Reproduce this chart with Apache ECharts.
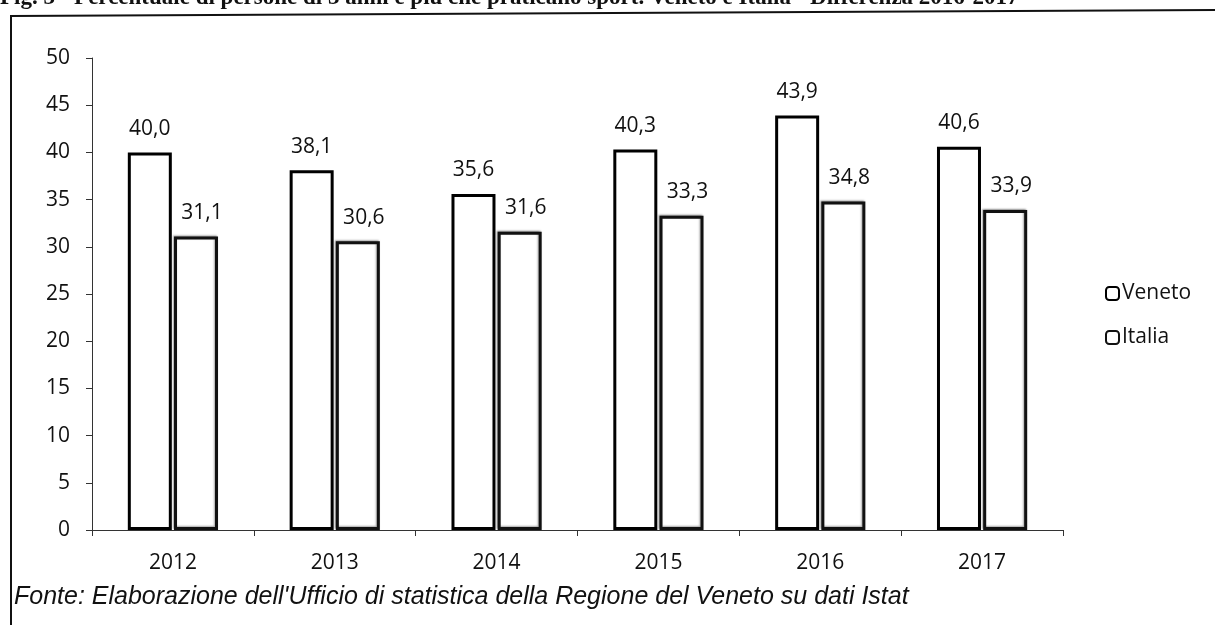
<!DOCTYPE html>
<html>
<head>
<meta charset="utf-8">
<script src="https://cdn.jsdelivr.net/npm/echarts@6/dist/echarts.min.js"></script>
<style>
html,body{margin:0;padding:0;background:#fff;}
#chart{width:1215px;height:625px;}
</style>
</head>
<body>
<div id="chart"></div>
<script>
const categories = ['2012','2013','2014','2015','2016','2017'];
const veneto = [40.0, 38.1, 35.6, 40.3, 43.9, 40.6];
const italia = [31.1, 30.6, 31.6, 33.3, 34.8, 33.9];
const titleText = 'Fig. 3 - Percentuale di persone di 3 anni e più che praticano sport. Veneto e Italia - Differenza 2016-2017';
const sourceText = "Fonte: Elaborazione dell'Ufficio di statistica della Regione del Veneto su dati Istat";

const FONT = '"Open Sans", sans-serif';
const chart = echarts.init(document.getElementById('chart'));
const fmt = p => p.value.toFixed(1).replace('.', ',');

chart.setOption({
  backgroundColor: '#ffffff',
  animation: false,
  grid: { left: 92, right: 152, top: 58, bottom: 95, containLabel: false },
  legend: {
    orient: 'vertical',
    left: 1100,
    top: 278,
    itemWidth: 13,
    itemHeight: 13,
    itemGap: 23,
    textStyle: { fontFamily: FONT, fontSize: 21, color: '#111', padding: [0,0,0,-2] },
    data: ['Veneto', 'Italia']
  },
  xAxis: {
    type: 'category',
    data: categories,
    axisLine: { lineStyle: { color: '#333', width: 1 } },
    axisTick: { show: true, length: 6, lineStyle: { color: '#333' } },
    axisLabel: { fontFamily: FONT, fontSize: 21, color: '#111', margin: 23 }
  },
  yAxis: {
    type: 'value',
    min: 0, max: 50, interval: 5,
    splitLine: { show: false },
    axisLine: { show: true, lineStyle: { color: '#333', width: 1 } },
    axisTick: { show: true, length: 6, lineStyle: { color: '#333' } },
    axisLabel: { fontFamily: FONT, fontSize: 21, color: '#111', margin: 22 }
  },
  series: [
    {
      name: 'Veneto',
      type: 'bar',
      data: veneto,
      barWidth: 44,
      barGap: '5%',
      itemStyle: { color: '#fff', borderColor: '#000', borderWidth: 3 },
      label: { show: true, position: 'top', distance: 13, formatter: fmt,
               fontFamily: FONT, fontSize: 21, color: '#111' }
    },
    {
      name: 'Italia',
      type: 'bar',
      data: italia,
      barWidth: 44,
      itemStyle: { color: '#fff', borderColor: '#111', borderWidth: 3,
                   shadowColor: 'rgba(0,0,0,0.35)', shadowBlur: 2, shadowOffsetX: -1, shadowOffsetY: -1 },
      label: { show: true, position: 'top', distance: 13, offset: [6, 0], formatter: fmt,
               fontFamily: FONT, fontSize: 21, color: '#111' }
    }
  ],
  graphic: [
    { type: 'text', left: 0, top: -13, silent: true,
      style: { text: titleText, font: 'bold 23px "Liberation Serif", serif', fill: '#111' } },
    { type: 'line', silent: true,
      shape: { x1: 11, y1: 16, x2: 1215, y2: 10 },
      style: { stroke: '#111', lineWidth: 2 } },
    { type: 'line', silent: true,
      shape: { x1: 11, y1: 15, x2: 11, y2: 625 },
      style: { stroke: '#111', lineWidth: 2 } },
    { type: 'text', left: 14, top: 585, silent: true,
      style: { text: sourceText, font: 'italic 25px "Liberation Sans", Arial, sans-serif', fill: '#111' } }
  ]
});
</script>
</body>
</html>
